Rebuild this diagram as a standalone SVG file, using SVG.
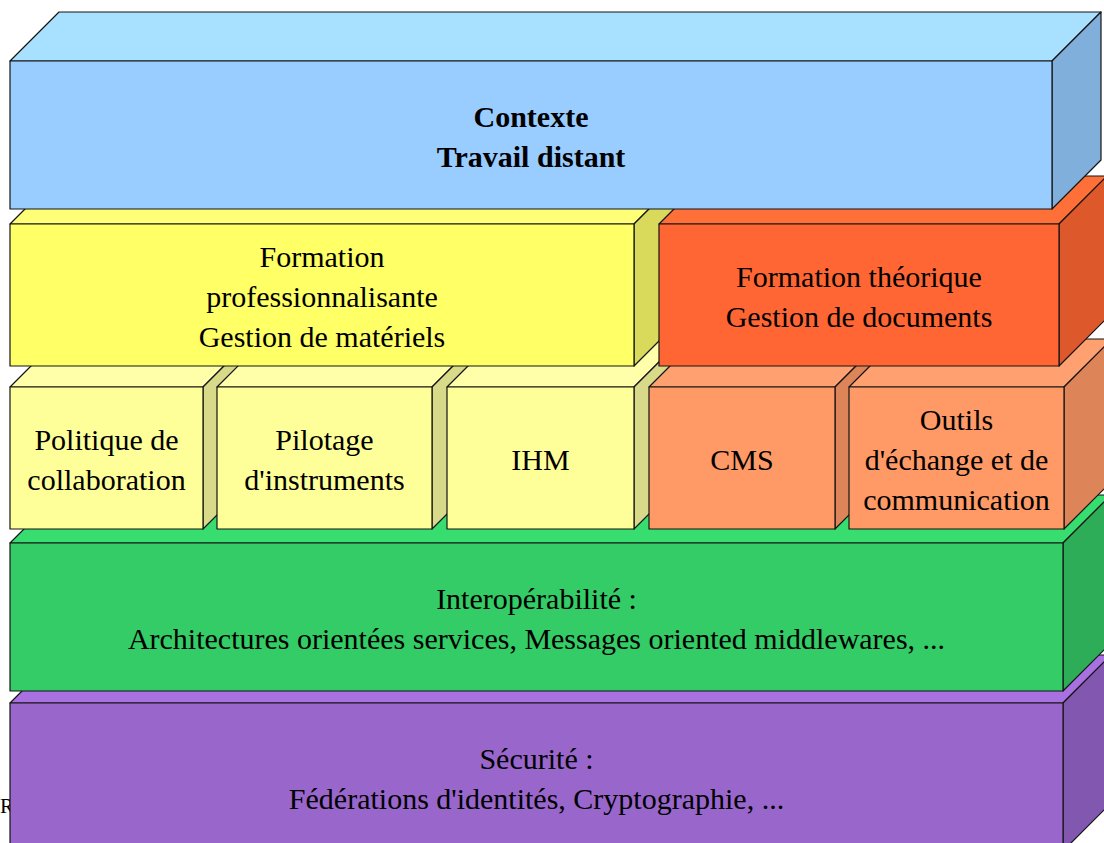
<svg xmlns="http://www.w3.org/2000/svg" width="1104" height="843" viewBox="0 0 1104 843">
<style>
  .e { stroke: #141414; stroke-width: 1.2; stroke-linejoin: round; }
  .t { font-family: "Liberation Serif", "Times New Roman", serif; font-size: 30px; fill: #000; text-anchor: middle; }
  .b { font-weight: bold; }
  .bluF { fill: #99ccff; } .bluT { fill: #a8e0ff; } .bluS { fill: #80afdb; }
  .yelF { fill: #ffff66; } .yelT { fill: #ffff77; } .yelS { fill: #d9d95c; }
  .redF { fill: #ff6633; } .redT { fill: #ff7038; } .redS { fill: #dd592c; }
  .lyF { fill: #ffff99; } .lyT { fill: #ffffaa; } .lyS { fill: #d9d98a; }
  .orF { fill: #ff9966; } .orT { fill: #ffa070; } .orS { fill: #dd8458; }
  .grF { fill: #33cc66; } .grT { fill: #38dd70; } .grS { fill: #2ead58; }
  .puF { fill: #9966cc; } .puT { fill: #a870e0; } .puS { fill: #8257b0; }
</style>
<rect x="0" y="0" width="1104" height="843" fill="#ffffff"/>
<text x="0" y="813" font-family="Liberation Serif, serif" font-size="21" fill="#000">R</text>

<g id="securite">
  <polygon class="e puT" points="10,703 58,655 1111,655 1063,703"/>
  <polygon class="e puS" points="1063,703 1111,655 1111,803 1063,851"/>
  <rect class="e puF" x="10" y="703" width="1053" height="148"/>
  <text class="t" x="536.5" y="769.3">Sécurité :</text>
  <text class="t" x="536.5" y="809.3">Fédérations d'identités, Cryptographie, ...</text>
</g>

<g id="interoperabilite">
  <polygon class="e grT" points="10,543 58,495 1111,495 1063,543"/>
  <polygon class="e grS" points="1063,543 1111,495 1111,643 1063,691"/>
  <rect class="e grF" x="10" y="543" width="1053" height="148"/>
  <text class="t" x="536.5" y="609.3">Interopérabilité :</text>
  <text class="t" x="536.5" y="649.3">Architectures orientées services, Messages oriented middlewares, ...</text>
</g>

<g id="politique">
  <polygon class="e lyT" points="10,387 58,339 251,339 203,387"/>
  <polygon class="e lyS" points="203,387 251,339 251,481 203,529"/>
  <rect class="e lyF" x="10" y="387" width="193" height="142"/>
  <text class="t" x="106.5" y="450.3">Politique de</text>
  <text class="t" x="106.5" y="490.3">collaboration</text>
</g>

<g id="pilotage">
  <polygon class="e lyT" points="217,387 265,339 480,339 432,387"/>
  <polygon class="e lyS" points="432,387 480,339 480,481 432,529"/>
  <rect class="e lyF" x="217" y="387" width="215" height="142"/>
  <text class="t" x="324.5" y="450.3">Pilotage</text>
  <text class="t" x="324.5" y="490.3">d'instruments</text>
</g>

<g id="ihm">
  <polygon class="e lyT" points="447,387 495,339 682,339 634,387"/>
  <polygon class="e lyS" points="634,387 682,339 682,481 634,529"/>
  <rect class="e lyF" x="447" y="387" width="187" height="142"/>
  <text class="t" x="540.5" y="470.3">IHM</text>
</g>

<g id="cms">
  <polygon class="e orT" points="649,387 697,339 883,339 835,387"/>
  <polygon class="e orS" points="835,387 883,339 883,481 835,529"/>
  <rect class="e orF" x="649" y="387" width="186" height="142"/>
  <text class="t" x="742" y="470.3">CMS</text>
</g>

<g id="outils">
  <polygon class="e orT" points="849,387 897,339 1112,339 1064,387"/>
  <polygon class="e orS" points="1064,387 1112,339 1112,481 1064,529"/>
  <rect class="e orF" x="849" y="387" width="215" height="142"/>
  <text class="t" x="956.5" y="430.3">Outils</text>
  <text class="t" x="956.5" y="470.3">d'échange et de</text>
  <text class="t" x="956.5" y="510.3">communication</text>
</g>

<g id="formation-pro">
  <polygon class="e yelT" points="10,224 58,176 682,176 634,224"/>
  <polygon class="e yelS" points="634,224 682,176 682,318 634,366"/>
  <rect class="e yelF" x="10" y="224" width="624" height="142"/>
  <text class="t" x="322" y="267.3">Formation</text>
  <text class="t" x="322" y="307.3">professionnalisante</text>
  <text class="t" x="322" y="347.3">Gestion de matériels</text>
</g>

<g id="formation-theo">
  <polygon class="e redT" points="659,224 707,176 1107,176 1059,224"/>
  <polygon class="e redS" points="1059,224 1107,176 1107,318 1059,366"/>
  <rect class="e redF" x="659" y="224" width="400" height="142"/>
  <text class="t" x="859" y="287.3">Formation théorique</text>
  <text class="t" x="859" y="327.3">Gestion de documents</text>
</g>

<g id="contexte">
  <polygon class="e bluT" points="10,61 59,12 1101,12 1052,61"/>
  <polygon class="e bluS" points="1052,61 1101,12 1101,160 1052,209"/>
  <rect class="e bluF" x="10" y="61" width="1042" height="148"/>
  <text class="t b" x="531" y="127.3">Contexte</text>
  <text class="t b" x="531" y="167.3">Travail distant</text>
</g>

<g id="connectors"/>
</svg>
